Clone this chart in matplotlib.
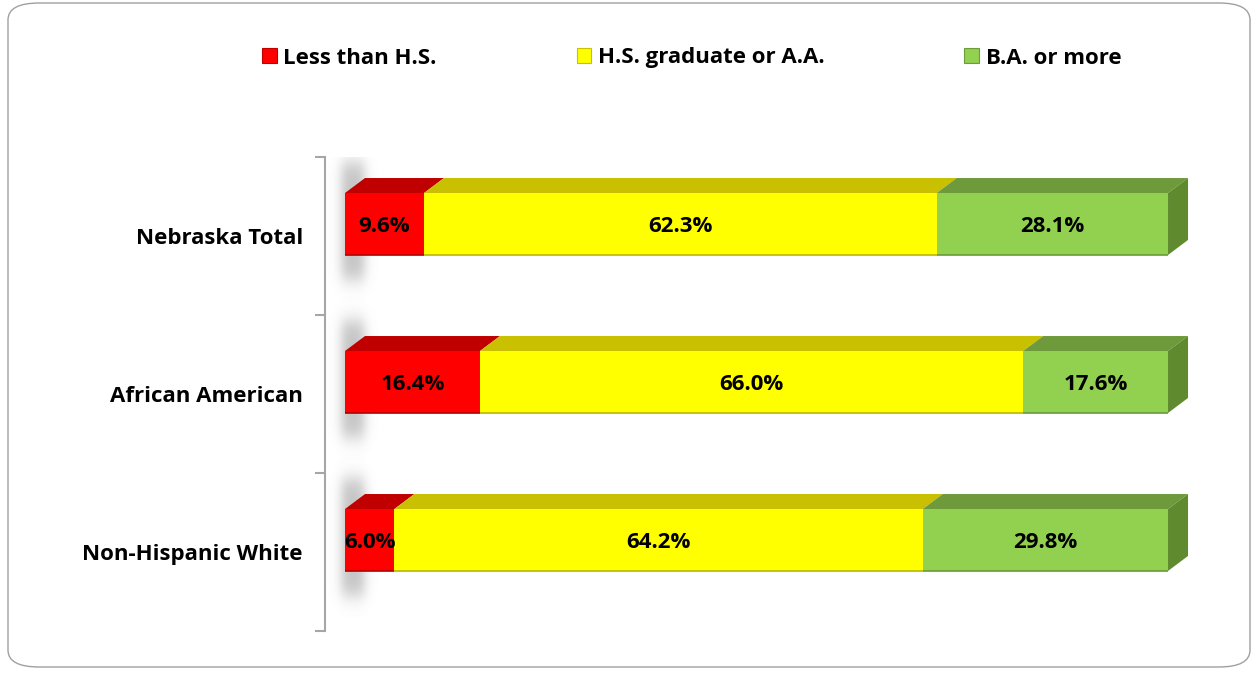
import matplotlib
matplotlib.use("Agg")
import numpy as np
import matplotlib.pyplot as plt
from matplotlib.patches import Polygon, Patch, FancyBboxPatch

plt.rcParams['font.family'] = ['Open Sans', 'DejaVu Sans']
plt.rcParams['font.weight'] = 'bold'

# Educational attainment shares by group (percent)
groups = ['Nebraska Total', 'African American', 'Non-Hispanic White']
series = ['Less than H.S.', 'H.S. graduate or A.A.', 'B.A. or more']
less_hs = [9.6, 16.4, 6.0]
hs_aa = [62.3, 66.0, 64.2]
ba_more = [28.1, 17.6, 29.8]

front_colors = ['#FF0000', '#FFFF00', '#92D050']
top_colors = ['#C00000', '#C8C000', '#6E9A3C']
edge_colors = ['#B00000', '#B8B800', '#6A9A38']
side_color = '#5F8A2E'

fig = plt.figure(figsize=(12.53, 6.75), dpi=100)

# rounded frame around the whole chart
frame = FancyBboxPatch((8 / 1253, 8 / 675), 1242 / 1253, 664 / 675,
                       boxstyle='round,pad=0,rounding_size=0.025',
                       transform=fig.transFigure, facecolor='none',
                       edgecolor='#A0A0A0', linewidth=1.0, zorder=-1)
fig.patches.append(frame)

ax = fig.add_axes([325 / 1253, 1 - 631 / 675, (1190 - 325) / 1253, (631 - 157) / 675])
ax.patch.set_alpha(0)

bar_top = 0.228
bar_h = 0.392
dx, dy = 2.43, 0.095


def soft_box(t, a, b, w):
    return 0.5 * (np.tanh((t - a) / w) - np.tanh((t - b) / w))


values = [less_hs, hs_aa, ba_more]
for i in range(len(groups)):
    yt = i + bar_top
    yb = yt + bar_h

    # blurred shadow cast by the left end of the bar
    x0, x1 = -2.4, 5.0
    y0, y1 = yt - 0.35, yb + 0.3
    xs = np.linspace(x0, x1, 100)
    ys = np.linspace(y0, y1, 140)
    gx, gy = np.meshgrid(xs, ys)
    alpha = 0.4 * soft_box(gx, -0.4, 2.4, 0.8) * soft_box(gy, yt - 0.19, yb + 0.16, 0.07)
    img = np.zeros((len(ys), len(xs), 4))
    img[..., :3] = 0.4
    img[..., 3] = alpha
    ax.imshow(img, extent=(x0, x1, y1, y0), origin='upper', aspect='auto',
              interpolation='bilinear', zorder=1)

    left = 0
    for s in range(len(series)):
        v = values[s][i]
        ax.barh(i + bar_top + bar_h / 2, v, height=bar_h, left=left,
                color=front_colors[s], edgecolor='none', zorder=3)
        ax.plot([left, left + v], [yb, yb], color=edge_colors[s], lw=1.2, zorder=4,
                solid_capstyle='butt')
        ax.add_patch(Polygon([(left, yt), (left + dx, yt - dy), (left + v + dx, yt - dy), (left + v, yt)],
                             closed=True, facecolor=top_colors[s], edgecolor='none', zorder=2))
        ax.text(left + v / 2, i + bar_top + bar_h / 2, f'{v:.1f}%', ha='center', va='center_baseline',
                fontsize=16, fontweight='bold', color='black', zorder=5)
        left += v
    ax.add_patch(Polygon([(left, yt), (left + dx, yt - dy), (left + dx, yb - dy), (left, yb)],
                         closed=True, facecolor=side_color, edgecolor='none', zorder=2))

ax.set_xlim(-2.43, 102.67)
ax.set_ylim(3, 0)

for side in ['top', 'right', 'bottom']:
    ax.spines[side].set_visible(False)
ax.spines['left'].set_color('#A6A6A6')
ax.spines['left'].set_linewidth(1.5)
ax.set_xticks([])
ax.set_yticks([0, 1, 2, 3])
ax.set_yticklabels([])
ax.tick_params(axis='y', which='major', length=7, width=1.5, color='#A6A6A6', direction='out')
ax.set_yticks([0.5, 1.5, 2.5], minor=True)
ax.set_yticklabels(groups, minor=True, fontsize=16, fontweight='bold')
ax.tick_params(axis='y', which='minor', length=0, pad=16)

handles = [Patch(facecolor=front_colors[s], edgecolor=top_colors[s], linewidth=0.8) for s in range(len(series))]
fig.legend(handles, series, loc='center', bbox_to_anchor=(0.552, 1 - 58 / 675), ncol=3,
           frameon=False, fontsize=16, handlelength=0.65, handleheight=0.65,
           handletextpad=0.3, columnspacing=6.3)

fig.savefig('out.png', dpi=100)
